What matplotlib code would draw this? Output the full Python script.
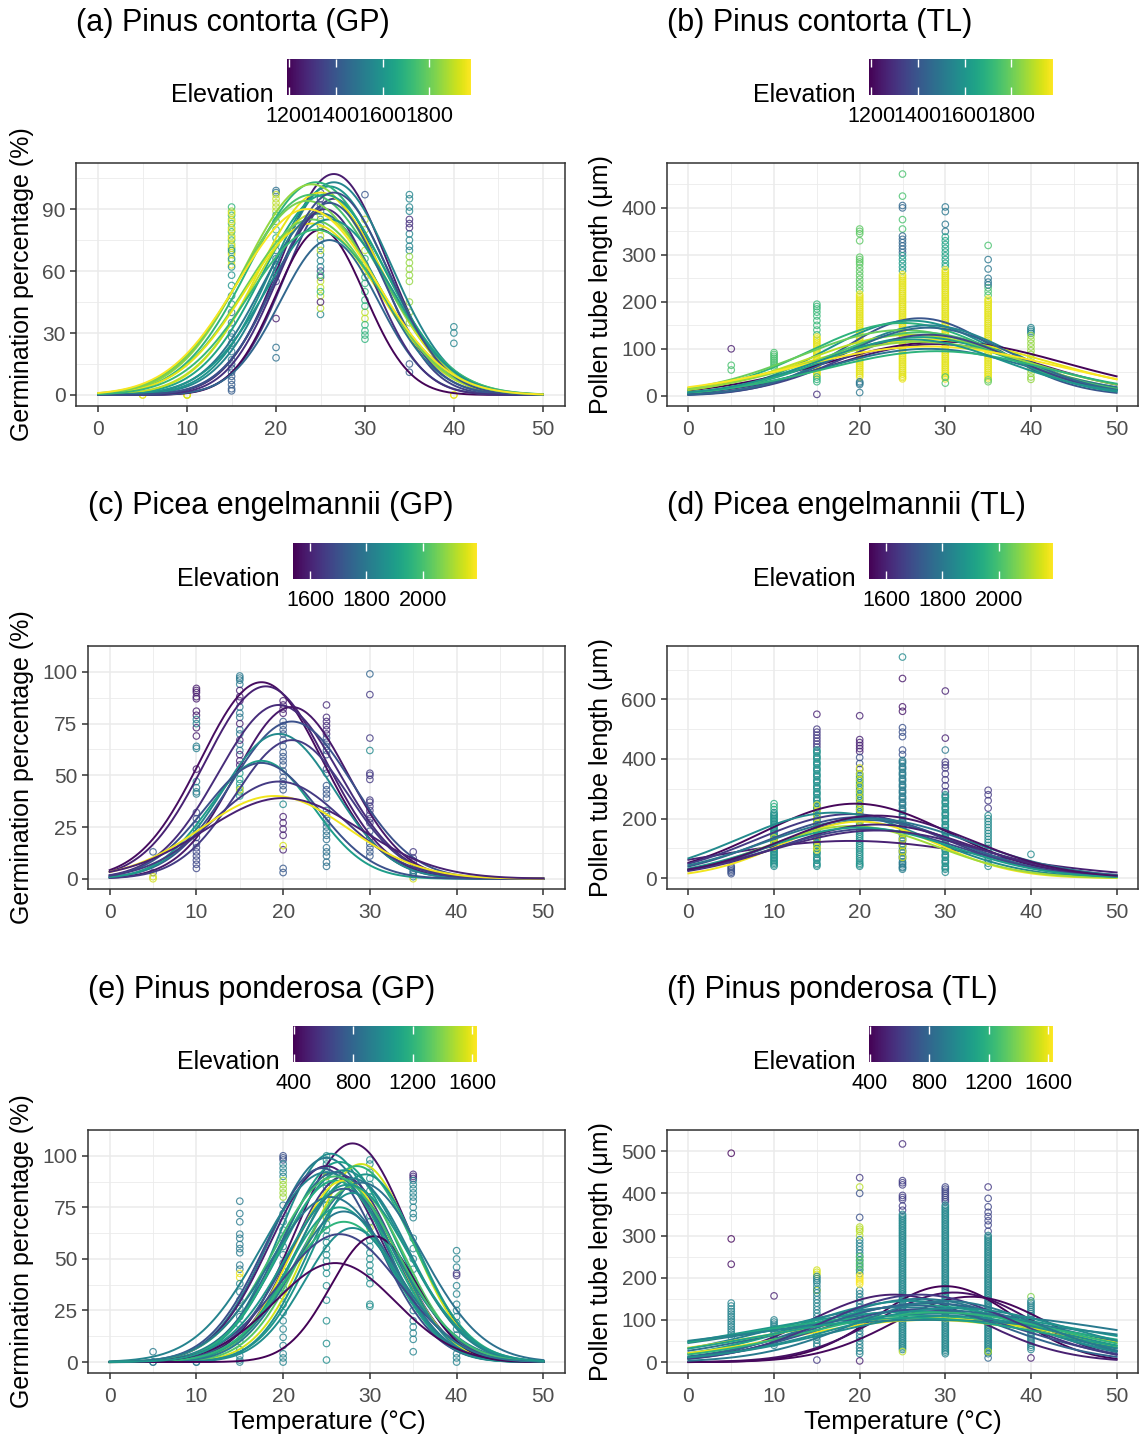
import numpy as np
import matplotlib.pyplot as plt
from matplotlib import colors
from matplotlib.cm import ScalarMappable

plt.rcParams['font.family'] = ['Liberation Sans', 'DejaVu Sans']

# observations: (temperature, elevation, [values])
# fitted curves: (elevation, peak, optimum temperature, breadth)

# (a) Pinus contorta - germination percentage
a_points = [
    (5, 1950, [0, 0]),
    (10, 1930, [0, 0, 0]),
    (15, 1700, [91, 87, 83, 79, 75, 71]),
    (15, 1850, [89, 85, 81, 77, 73, 69, 65]),
    (15, 1950, [88, 84, 80, 76, 72, 68, 63]),
    (15, 1600, [70, 66, 62, 58, 53, 48, 44]),
    (15, 1500, [40, 35, 30, 28, 25, 21, 17]),
    (15, 1420, [15, 13, 11, 9, 7, 5, 3, 2]),
    (20, 1480, [99, 98, 70, 66, 62, 58, 23, 18]),
    (20, 1900, [97, 95, 93, 91, 89]),
    (20, 1700, [87, 84, 80, 76, 73]),
    (20, 1350, [63, 59, 55]),
    (20, 1250, [37]),
    (25, 1350, [98, 95, 92, 60, 57]),
    (25, 1550, [89, 85, 82, 75, 72, 68, 65, 62, 39]),
    (25, 1900, [87, 80, 77, 70, 55, 52, 48, 42]),
    (25, 1250, [45]),
    (25, 1700, [58, 50]),
    (30, 1400, [97]),
    (30, 1900, [85, 80, 75, 70, 60, 40, 37]),
    (30, 1700, [66, 63, 57, 54, 50, 46, 43, 34, 31, 29, 27]),
    (35, 1550, [97, 95, 91, 89, 78, 75, 72, 70]),
    (35, 1300, [85, 83, 81]),
    (35, 1850, [67, 64, 61, 58, 55, 45, 40, 35]),
    (35, 1420, [15, 11]),
    (40, 1550, [33, 30, 25]),
    (40, 1950, [0, 0]),
]
a_curves = [
    (1250, 107, 26.5, 6.0), (1350, 95, 26.5, 5.5), (1200, 80, 25.0, 5.0),
    (1450, 75, 26.0, 5.5), (1550, 103, 26.5, 6.5), (1600, 101, 26.0, 6.5),
    (1700, 103, 24.5, 7.5), (1850, 102, 24.0, 7.5), (1950, 98, 25.0, 7.0),
    (1750, 97, 24.0, 7.8), (1650, 97, 25.5, 7.0), (1900, 88, 24.5, 7.0),
    (1800, 85, 24.0, 7.5), (1950, 83, 24.0, 7.5), (1500, 88, 25.0, 6.5),
    (1400, 93, 26.0, 6.0), (1300, 90, 25.5, 5.5), (1820, 94, 23.5, 7.5),
    (1600, 85, 26.0, 7.0), (1380, 98, 26.5, 6.2), (1720, 80, 24.5, 7.5),
    (1970, 90, 23.5, 7.8),
]

# (b) Pinus contorta - pollen tube length
b_points = [
    (5, 1250, [100]),
    (5, 1750, [65, 55]),
    (10, 1750, [92, 88, 84, 80, 76, 72, 68, 64, 60]),
    (15, 1720, [195, 190, 185, 178, 170, 160, 150, 140, 130]),
    (15, 1960, [125, 118, 110, 102, 95, 88, 80, 72, 65, 58, 50, 44]),
    (15, 1940, [121, 114, 106, 98, 91, 84, 76, 68, 61, 54, 47]),
    (15, 1700, [40, 35, 30]),
    (15, 1300, [3]),
    (20, 1780, [355, 350, 345, 330, 295, 290, 285, 280, 272, 264, 256, 248,
                240, 232, 224]),
    (20, 1960, [216, 208, 200, 192, 184, 176, 168, 160, 152, 144, 136, 128,
                120, 112, 104, 96, 88, 80, 72, 64, 56, 48, 40]),
    (20, 1940, [212, 204, 196, 188, 180, 172, 164, 156, 148, 140, 132, 124,
                116, 108, 100, 92, 84, 76, 68, 60, 52, 44]),
    (20, 1500, [30, 27, 24, 7]),
    (25, 1750, [472, 425, 375, 355]),
    (25, 1450, [405, 400, 340, 333, 326, 319, 312, 305]),
    (25, 1620, [298, 290, 282, 274, 266]),
    (25, 1960, [258, 250, 242, 234, 226, 218, 210, 202, 194, 186, 178, 170,
                162, 154, 146, 138, 130, 122, 114, 106, 98, 90, 82, 74, 66,
                58, 50, 42, 36]),
    (25, 1940, [254, 246, 238, 230, 222, 214, 206, 198, 190, 182, 174, 166,
                158, 150, 142, 134, 126, 118, 110, 102, 94, 86, 78, 70, 62,
                54, 46, 39]),
    (30, 1500, [402, 392, 365, 350]),
    (30, 1650, [338, 330, 322, 314, 306, 298, 290, 282, 275]),
    (30, 1960, [268, 260, 252, 244, 236, 228, 220, 212, 204, 196, 188, 180,
                172, 164, 156, 148, 140, 132, 124, 116, 108, 100, 92, 84, 76,
                68, 60, 52, 44, 36]),
    (30, 1940, [264, 256, 248, 240, 232, 224, 216, 208, 200, 192, 184, 176,
                168, 160, 152, 144, 136, 128, 120, 112, 104, 96, 88, 80, 72,
                64, 56, 48, 40]),
    (30, 1750, [27, 40]),
    (35, 1750, [320, 230, 222, 214]),
    (35, 1500, [290, 270, 250, 242, 236]),
    (35, 1960, [206, 198, 190, 182, 174, 166, 158, 150, 142, 134, 126, 118,
                110, 102, 94, 86, 78, 70, 62, 54, 46, 38]),
    (35, 1940, [202, 194, 186, 178, 170, 162, 154, 146, 138, 130, 122, 114,
                106, 98, 90, 82, 74, 66, 58, 50, 42]),
    (35, 1800, [30, 34]),
    (40, 1550, [145, 141, 137, 133]),
    (40, 1850, [128, 120, 112, 104, 96, 88, 80, 72, 64, 56, 48, 40, 35]),
]
b_curves = [
    (1400, 165, 27, 9), (1600, 160, 26, 10), (1700, 155, 25, 11),
    (1550, 150, 28, 10), (1250, 110, 29, 12), (1200, 115, 30, 14),
    (1950, 120, 28, 14), (1900, 130, 26, 12), (1800, 140, 25, 12),
    (1500, 100, 28, 12), (1650, 125, 27, 11), (1750, 135, 27, 11),
    (1350, 130, 28, 10), (1450, 145, 28, 10), (1850, 115, 27, 13),
    (1975, 105, 28, 15), (1700, 95, 29, 13), (1600, 120, 26, 11),
]

# (c) Picea engelmannii - germination percentage
c_points = [
    (5, 1720, [13, 3]),
    (5, 2150, [1, 0]),
    (10, 1590, [92, 91, 90, 88, 87, 81, 79, 73, 69, 53]),
    (10, 1820, [77, 75, 64, 63, 47, 44, 42, 41]),
    (10, 1680, [32, 29, 26, 24, 20, 17, 15, 13, 11, 9, 7, 5]),
    (15, 1800, [98, 97, 96, 94, 83, 80, 78, 72, 70, 65, 62]),
    (15, 1600, [91, 88, 86, 75, 67, 60, 57, 55]),
    (15, 1900, [51, 48, 46, 44, 42, 40]),
    (15, 2150, [43]),
    (20, 1600, [86, 84, 82, 80, 30, 27, 24, 21, 14]),
    (20, 1720, [76, 74, 72, 70, 67, 64, 61, 59, 57, 55, 52, 49, 47, 45, 43,
                5, 3]),
    (20, 1850, [36]),
    (20, 2150, [16]),
    (25, 1620, [84, 78, 76, 74, 72, 70]),
    (25, 1720, [68, 66, 64, 62, 60, 53, 51, 45, 43, 41, 39]),
    (25, 1780, [33, 31, 29, 27, 25, 23, 21, 19, 15, 13, 11, 8, 6]),
    (30, 1750, [99]),
    (30, 1650, [89, 68, 51, 50, 48, 38, 37, 35, 33, 31, 29, 27]),
    (30, 1850, [62]),
    (30, 1720, [23, 20, 17, 15, 13, 11]),
    (35, 1650, [13, 10, 8, 6]),
    (35, 1800, [4, 3, 2, 1]),
    (35, 2150, [0]),
]
c_curves = [
    (1560, 95, 17.5, 7.0), (1600, 93, 18.0, 7.0), (1620, 84, 19.5, 7.0),
    (1580, 83, 21.0, 6.5), (1700, 76, 21.0, 7.0), (1850, 70, 19.5, 6.5),
    (1650, 67, 21.0, 6.5), (1900, 57, 17.5, 6.0), (1700, 56, 17.5, 6.5),
    (1650, 47, 19.5, 7.5), (2180, 40, 19.0, 8.5), (1600, 39, 20.0, 9.0),
]

# (d) Picea engelmannii - pollen tube length
d_points = [
    (5, 1700, [40, 35, 30, 25, 20, 15]),
    (10, 1950, [250, 240, 230]),
    (10, 1850, [220, 210, 200, 190, 180, 170, 160, 150, 140, 130, 120, 110,
                100, 90, 80, 70, 60, 50, 40]),
    (10, 1880, [215, 205, 195, 185, 175, 165, 155, 145, 135, 125, 115, 105,
                95, 85, 75, 65, 55, 45]),
    (10, 2150, [135, 125, 115, 105]),
    (15, 1600, [550]),
    (15, 1650, [500, 490, 480, 470, 460, 450, 440]),
    (15, 1850, [430, 420, 410, 400, 390, 380, 370, 360, 350, 340, 330, 320,
                310, 300, 290, 280, 270, 260, 250, 240, 230, 220, 210, 200,
                190, 180, 170, 160, 150, 140, 130, 120, 110, 100, 90, 80, 70,
                60, 50, 40]),
    (15, 1880, [425, 405, 385, 365, 345, 325, 305, 285, 265, 235, 195, 155,
                135, 115, 85, 65, 45]),
    (15, 2150, [245, 225, 205, 185, 165, 145, 125, 105, 95]),
    (20, 1600, [545, 465, 455, 445, 435, 425]),
    (20, 1700, [405, 385, 365]),
    (20, 1850, [350, 335, 320, 305, 290, 275, 260, 245, 230, 215, 200, 185,
                170, 155, 140, 125, 110, 95, 80, 65, 50, 40]),
    (20, 1880, [342, 327, 312, 297, 282, 267, 252, 237, 222, 207, 192, 177,
                162, 147, 132, 117, 102, 87, 72, 57, 45]),
    (20, 2150, [370, 350, 330, 310, 290, 270, 250, 230, 210, 190, 170]),
    (25, 1850, [742]),
    (25, 1580, [670, 575, 560]),
    (25, 1700, [505, 490, 475, 430, 415]),
    (25, 1820, [395, 385, 375, 365, 355, 345, 335, 325, 315, 305, 295, 285,
                275, 265, 255, 245, 235, 225, 215, 205, 195, 185, 175, 165,
                155, 145, 135, 125, 115, 105, 95, 85, 75, 65, 55, 45, 35, 30]),
    (25, 1800, [390, 370, 350, 330, 310, 290, 270, 250, 230, 210, 190, 170,
                150, 130, 110, 90, 70, 50, 38]),
    (25, 2150, [150, 130, 110, 90, 70]),
    (30, 1600, [628, 470]),
    (30, 1800, [430]),
    (30, 1650, [390, 380, 370, 350, 330, 310, 290]),
    (30, 1850, [280, 270, 260, 250, 240, 230, 220, 210, 200, 190, 180, 170,
                160, 150, 140, 130, 120, 110, 100, 90, 80, 70, 60, 50, 40, 30,
                20]),
    (30, 1880, [275, 255, 235, 215, 195, 175, 155, 135, 115, 95, 75, 55, 35]),
    (35, 1650, [295, 280, 260, 235]),
    (35, 1850, [210, 200, 190, 180, 170, 160, 150, 140, 130, 120, 110, 100,
                90, 80, 70, 60, 50, 40]),
    (40, 1850, [80]),
]
d_curves = [
    (1550, 250, 19.5, 11), (1600, 125, 19.0, 16), (1650, 215, 19.0, 11),
    (1850, 220, 17.0, 11), (1700, 205, 20.0, 11), (1750, 195, 21.0, 10.5),
    (2180, 190, 20.0, 9), (2100, 175, 19.0, 10), (1600, 180, 22.0, 11),
    (1680, 165, 21.0, 11), (1900, 170, 20.0, 11), (1620, 160, 22.0, 12),
    (1800, 200, 21.0, 12), (1570, 210, 22.0, 11),
]

# (e) Pinus ponderosa - germination percentage
e_points = [
    (5, 900, [5, 0, 0]),
    (10, 900, [0, 0]),
    (15, 900, [78, 72, 68, 62, 60, 57, 55, 53, 47, 45]),
    (15, 1600, [43, 41]),
    (15, 950, [38, 34, 30, 26, 22, 18, 14, 10, 6, 3, 1, 0]),
    (20, 700, [100, 99, 98]),
    (20, 950, [96, 94, 92, 90, 76, 72, 68, 64, 60, 56, 52, 48, 44, 40, 36,
               32, 28, 24, 20, 16, 12, 8, 4, 2, 0]),
    (20, 1450, [88, 86, 84, 82, 80]),
    (25, 1000, [100, 98, 96, 94, 92, 90, 87, 85, 82, 79, 76, 73, 70, 67, 64,
                61, 58, 55, 52, 49, 46, 43, 37, 30, 20, 9, 1]),
    (25, 1500, [90, 70]),
    (30, 1000, [98, 96, 92, 89, 86, 83, 80, 77, 74, 71, 68, 62, 59, 56, 53,
                50, 47, 44, 41, 38, 28, 27]),
    (30, 1500, [65]),
    (35, 550, [91, 90, 89]),
    (35, 950, [88, 86, 84, 82, 80, 78, 75, 72, 70, 60, 55, 50, 45, 40, 35,
               30, 25, 20, 17, 14, 11, 5]),
    (40, 950, [54, 50, 46, 37, 33, 28, 25, 22, 19, 16, 13, 10, 7, 4, 2, 0]),
    (40, 600, [43, 42]),
]
e_curves = [
    (450, 106, 28.0, 6.5), (1000, 101, 25.5, 6.0), (900, 99, 25.0, 6.5),
    (1100, 97, 26.5, 6.5), (1550, 96, 29.0, 6.0), (1200, 95, 28.5, 6.5),
    (500, 95, 25.0, 6.5), (700, 94, 24.5, 6.5), (1000, 93, 27.0, 7.0),
    (800, 92, 26.0, 6.5), (1050, 91, 29.5, 6.0), (600, 90, 27.0, 6.0),
    (950, 89, 28.0, 6.5), (1150, 88, 26.0, 6.5), (1600, 88, 27.0, 6.0),
    (850, 87, 29.0, 7.0), (1300, 85, 28.0, 6.0), (750, 84, 27.0, 6.5),
    (1000, 82, 28.0, 5.5), (1100, 75, 26.5, 6.0), (900, 73, 27.0, 6.0),
    (1200, 68, 27.0, 6.5), (1000, 65, 28.0, 5.5), (650, 62, 26.5, 7.0),
    (400, 61, 30.5, 5.0), (420, 48, 26.0, 7.0), (950, 92, 25.0, 7.5),
    (1250, 90, 26.0, 7.0), (880, 80, 25.5, 7.0), (1050, 86, 27.5, 7.0),
]

# (f) Pinus ponderosa - pollen tube length
f_points = [
    (5, 420, [495, 292]),
    (5, 450, [232]),
    (5, 950, [140, 133, 126, 120, 114, 108, 102, 96, 90, 84, 78, 72, 66, 60]),
    (10, 500, [157]),
    (10, 950, [100, 95, 90, 85, 80, 75, 70, 65, 60, 55, 50, 45, 40]),
    (15, 1550, [218, 213, 208, 170]),
    (15, 950, [203, 198, 193, 188, 180, 172, 164, 156, 148, 140, 132, 124,
               116, 108, 100, 92, 84, 76, 68, 60, 52, 44, 38]),
    (15, 600, [5]),
    (20, 600, [437]),
    (20, 1500, [415, 320, 315, 310, 300]),
    (20, 700, [400, 343]),
    (20, 950, [290, 282, 274, 266, 258, 250, 242, 234, 226, 218, 210, 170,
               162, 154, 146, 138, 130, 122, 114, 106, 98, 90, 82, 74, 66,
               58, 50, 42, 34, 26, 20]),
    (20, 1300, [250, 240, 230, 220]),
    (20, 1620, [205, 200, 195, 190, 185]),
    (20, 500, [3]),
    (25, 550, [517]),
    (25, 620, [430, 425, 420, 395, 390, 385, 370, 360]),
    (25, 950, [350, 342, 334, 326, 318, 310, 302, 294, 286, 278, 270, 262,
               254, 246, 238, 230, 222, 214, 206, 198, 190, 182, 174, 166,
               158, 150, 142, 134, 126, 118, 110, 102, 94, 86, 78, 70, 62,
               54, 46, 38, 30]),
    (25, 980, [346, 338, 330, 322, 314, 306, 298, 290, 282, 274, 266, 258,
               250, 242, 234, 226, 218, 210, 202, 194, 186, 178, 170, 162,
               154, 146, 138, 130, 122, 114, 106, 98, 90, 82, 74, 66, 58,
               50, 42, 34]),
    (25, 1500, [25]),
    (30, 650, [415, 410, 405, 400, 395, 390, 385, 380]),
    (30, 950, [372, 364, 356, 348, 340, 332, 324, 316, 308, 300, 292, 284,
               276, 268, 260, 252, 244, 236, 228, 220, 212, 204, 196, 188,
               180, 172, 164, 156, 148, 140, 132, 124, 116, 108, 100, 92, 84,
               76, 68, 60, 52, 44, 36, 28, 20]),
    (30, 980, [368, 360, 352, 344, 336, 328, 320, 312, 304, 296, 288, 280,
               272, 264, 256, 248, 240, 232, 224, 216, 208, 200, 192, 184,
               176, 168, 160, 152, 144, 136, 128, 120, 112, 104, 96, 88, 80,
               72, 64, 56, 48, 40, 32, 24]),
    (35, 600, [415]),
    (35, 650, [388, 368, 355, 345, 335, 325, 310]),
    (35, 950, [300, 292, 284, 276, 268, 260, 252, 244, 236, 228, 220, 212,
               204, 196, 188, 180, 172, 164, 156, 148, 140, 132, 124, 116,
               108, 100, 92, 84, 76, 68, 60, 52, 44, 36, 28, 20]),
    (35, 980, [296, 288, 280, 272, 264, 256, 248, 240, 232, 224, 216, 208,
               200, 192, 184, 176, 168, 160, 152, 144, 136, 128, 120, 112,
               104, 96, 88, 80, 72, 64, 56, 48, 40, 32, 24]),
    (35, 800, [10]),
    (35, 1500, [25]),
    (40, 1400, [155]),
    (40, 950, [145, 140, 135, 130, 125, 120, 115, 110, 105, 100, 95, 90, 85,
               80, 75, 70, 65, 60, 55, 50, 45, 40, 35, 30]),
    (40, 500, [10]),
]
f_curves = [
    (400, 180, 30, 8), (450, 165, 31, 9), (500, 160, 24, 10),
    (420, 155, 33, 9), (900, 150, 27, 12), (1000, 145, 26, 13),
    (800, 140, 28, 13), (1100, 135, 27, 14), (950, 130, 25, 15),
    (850, 125, 28, 16), (1050, 120, 27, 20), (900, 115, 30, 22),
    (1150, 110, 26, 20), (1600, 100, 28, 16), (1550, 105, 27, 18),
    (700, 125, 27, 12), (1000, 110, 30, 14), (950, 100, 28, 24),
    (800, 135, 26, 11), (1200, 118, 29, 15), (600, 160, 27, 11),
    (1100, 105, 26, 17), (900, 145, 30, 11), (1000, 128, 31, 14),
]

contorta_range = (1191, 1979)
picea_range = (1539, 2193)
ponderosa_range = (393, 1634)

gp_label = 'Germination percentage (%)'
tl_label = 'Pollen tube length (μm)'

# pixel boxes (left, top, right, bottom) for plot and colour bar
panels = [
    ('(a) Pinus contorta (GP)', gp_label, a_points, a_curves, contorta_range,
     [1200, 1400, 1600, 1800], (76, 163, 565, 406), (287, 59, 471, 95), [0, 30, 60, 90]),
    ('(b) Pinus contorta (TL)', tl_label, b_points, b_curves, contorta_range,
     [1200, 1400, 1600, 1800], (667, 163, 1138, 406), (869, 59, 1053, 95), [0, 100, 200, 300, 400]),
    ('(c) Picea engelmannii (GP)', gp_label, c_points, c_curves, picea_range,
     [1600, 1800, 2000], (88, 646, 565, 889), (293, 543, 477, 579), [0, 25, 50, 75, 100]),
    ('(d) Picea engelmannii (TL)', tl_label, d_points, d_curves, picea_range,
     [1600, 1800, 2000], (667, 646, 1138, 889), (869, 543, 1053, 579), [0, 200, 400, 600]),
    ('(e) Pinus ponderosa (GP)', gp_label, e_points, e_curves, ponderosa_range,
     [400, 800, 1200, 1600], (88, 1130, 565, 1373), (293, 1026, 477, 1062), [0, 25, 50, 75, 100]),
    ('(f) Pinus ponderosa (TL)', tl_label, f_points, f_curves, ponderosa_range,
     [400, 800, 1200, 1600], (667, 1130, 1138, 1373), (869, 1026, 1053, 1062), [0, 100, 200, 300, 400, 500]),
]

W, H = 1139, 1437
fig = plt.figure(figsize=(W / 100, H / 100), dpi=100)
cmap = plt.get_cmap('viridis')
temps = np.linspace(0, 50, 251)


def px_axes(box):
    x0, y0, x1, y1 = box
    return fig.add_axes([x0 / W, 1 - y1 / H, (x1 - x0) / W, (y1 - y0) / H])


for i, (title, ylab, pts, curves, erange, cticks, box, cbox, yticks) in enumerate(panels):
    norm = colors.Normalize(*erange)
    ax = px_axes(box)

    xs, ys, cs = [], [], []
    for t, elev, vals in pts:
        xs += [t] * len(vals)
        ys += vals
        cs += [cmap(norm(elev))] * len(vals)
    ax.scatter(xs, ys, s=22, facecolors='none', edgecolors=cs,
               linewidths=0.85, alpha=0.8, zorder=2)

    for elev, peak, topt, sd in curves:
        ax.plot(temps, peak * np.exp(-0.5 * ((temps - topt) / sd) ** 2),
                color=cmap(norm(elev)), lw=1.4, zorder=3)

    ax.margins(x=0.05, y=0.05)
    ax.set_xticks([0, 10, 20, 30, 40, 50])
    ax.set_xticks([5, 15, 25, 35, 45], minor=True)
    ax.set_yticks(yticks)
    step = yticks[1] - yticks[0]
    ax.set_yticks([v + step / 2 for v in yticks], minor=True)
    ax.grid(which='major', color='#ebebeb', lw=1.1)
    ax.grid(which='minor', color='#ebebeb', lw=0.6)
    ax.set_axisbelow(True)
    for sp in ax.spines.values():
        sp.set_color('#333333')
        sp.set_linewidth(1.1)
    ax.tick_params(which='major', length=4.5, width=1.1, color='#333333',
                   labelsize=15, labelcolor='#4d4d4d', pad=3)
    ax.tick_params(axis='x', which='major', pad=5.5)
    ax.tick_params(which='minor', length=0)
    ax.set_ylabel(ylab, fontsize=18, labelpad=6)
    if i >= 4:
        ax.set_xlabel('Temperature (°C)', fontsize=18.5, labelpad=3)

    fig.text(box[0] / W, 1 - (box[1] - 132) / H, title, fontsize=22,
             ha='left', va='baseline')

    # elevation colour bar on top
    cax = px_axes(cbox)
    cb = fig.colorbar(ScalarMappable(norm=norm, cmap=cmap), cax=cax,
                      orientation='horizontal')
    cb.set_ticks(cticks)
    cb.outline.set_visible(False)
    cax.tick_params(axis='x', direction='in', length=6, width=1,
                    color='white', top=True, bottom=True, labelsize=15.5,
                    pad=8)
    fig.text((cbox[0] - 13) / W, 1 - (cbox[3] + 7) / H, 'Elevation',
             fontsize=18, ha='right', va='baseline')

fig.savefig('out.png', dpi=100)
